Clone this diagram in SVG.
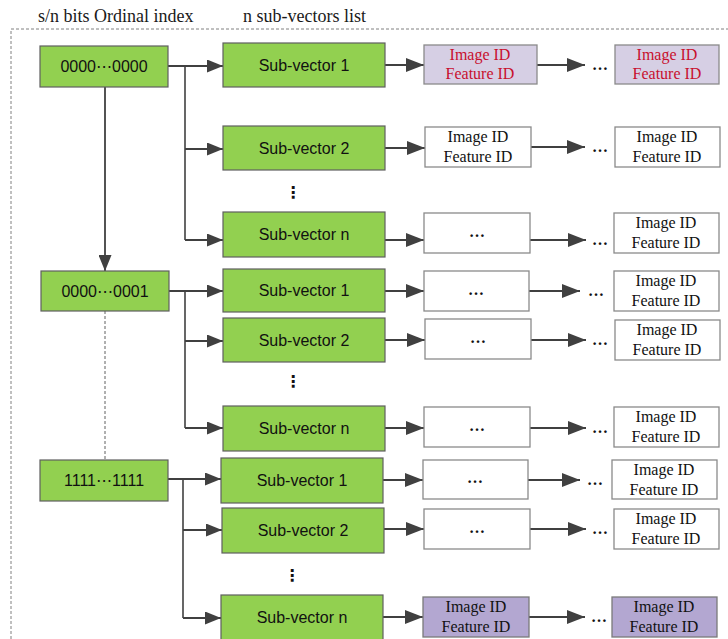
<svg xmlns="http://www.w3.org/2000/svg" width="728" height="639" viewBox="0 0 728 639">
<defs>
<style>
.bg{fill:#ffffff}
.frame{fill:none;stroke:#808080;stroke-width:1;stroke-dasharray:3 2}
.green{fill:#92d050;stroke:#5f5f5f;stroke-width:1.2}
.white{fill:#ffffff;stroke:#8a8a8a;stroke-width:1.3}
.lp{fill:#d6cfe4;stroke:#8a8a8a;stroke-width:1.3}
.dp{fill:#b3a7d1;stroke:#7a7a7a;stroke-width:1.3}
.title{font-family:"Liberation Serif","Times New Roman",serif;font-size:18px;fill:#1a1a1a}
.sv{font-family:"Liberation Sans",Arial,"DejaVu Sans",sans-serif;font-size:16px;fill:#111;text-anchor:middle}
.id{font-family:"Liberation Serif","Times New Roman",serif;font-size:16px;fill:#111;text-anchor:middle}
.red{fill:#c8102e}
.dots{font-family:"Liberation Serif","Times New Roman",serif;font-size:16px;font-weight:bold;fill:#111;text-anchor:middle}
.vd{font-family:"DejaVu Sans",sans-serif;font-size:16px;font-weight:bold;fill:#111;text-anchor:middle}
.ln{fill:none;stroke:#404040;stroke-width:1.6}
.arr{fill:none;stroke:#404040;stroke-width:2.2;marker-end:url(#ah)}
.arr2{fill:none;stroke:#404040;stroke-width:1.8;marker-end:url(#ah2)}
.dash{fill:none;stroke:#606060;stroke-width:1;stroke-dasharray:3 2}
</style>
<marker id="ah" markerUnits="userSpaceOnUse" markerWidth="18" markerHeight="14" viewBox="0 0 18 14" refX="18" refY="7" orient="auto">
<path d="M0,0 L18,7 L0,14 z" fill="#404040"/>
</marker>
<marker id="ah2" markerUnits="userSpaceOnUse" markerWidth="16" markerHeight="13" viewBox="0 0 16 13" refX="16" refY="6.5" orient="auto">
<path d="M0,0 L16,6.5 L0,13 z" fill="#404040"/>
</marker>
</defs>
<rect class="bg" x="0" y="0" width="728" height="639"/>
<path class="frame" d="M11,639 V29 H728"/>
<text class="title" x="38" y="22">s/n bits Ordinal index</text>
<text class="title" x="243" y="22">n sub-vectors list</text>

<g id="connectors">
<path class="arr2" d="M105,87 V271"/>
<path class="dash" d="M105,311 V460"/>
<path class="ln" d="M185,66 V240"/>
<path class="arr2" d="M168,66 H223"/>
<path class="arr2" d="M185,149 H223"/>
<path class="arr2" d="M185,240 H223"/>
<path class="ln" d="M185,291 V428"/>
<path class="arr2" d="M169,291 H223"/>
<path class="arr2" d="M185,341 H223"/>
<path class="arr2" d="M185,428 H223"/>
<path class="ln" d="M183,479 V618"/>
<path class="arr2" d="M168,479 H221"/>
<path class="arr2" d="M183,530 H222"/>
<path class="arr2" d="M183,618 H221"/>
<path class="arr" d="M385,65 H424"/>
<path class="arr" d="M537,65 H585"/>
<path class="arr" d="M385,148 H425"/>
<path class="arr" d="M531,147 H585"/>
<path class="arr" d="M385,240 H424"/>
<path class="arr" d="M530,240 H586"/>
<path class="arr" d="M385,291 H424"/>
<path class="arr" d="M529,291 H580"/>
<path class="arr" d="M385,340 H425"/>
<path class="arr" d="M531,340 H586"/>
<path class="arr" d="M385,428 H424"/>
<path class="arr" d="M530,428 H586"/>
<path class="arr" d="M383,480 H423"/>
<path class="arr" d="M528,480 H580"/>
<path class="arr" d="M384,529 H424"/>
<path class="arr" d="M530,529 H586"/>
<path class="arr" d="M383,617 H423"/>
<path class="arr" d="M529,617 H585"/>
</g>

<g id="idx0"><rect class="green" x="40" y="46" width="128" height="41"/><text class="sv" x="104" y="72">0000⋯0000</text></g>
<g id="idx1"><rect class="green" x="41" y="271" width="128" height="40"/><text class="sv" x="105" y="297">0000⋯0001</text></g>
<g id="idx2"><rect class="green" x="40" y="460" width="128" height="41"/><text class="sv" x="104" y="486">1111⋯1111</text></g>

<g id="g1sv1"><rect class="green" x="223" y="43" width="162" height="44"/><text class="sv" x="304" y="71">Sub-vector 1</text></g>
<g id="g1sv2"><rect class="green" x="223" y="126" width="162" height="44"/><text class="sv" x="304" y="154">Sub-vector 2</text></g>
<g id="g1vd"><text class="vd" x="293" y="198">⋮</text></g>
<g id="g1svn"><rect class="green" x="223" y="212" width="162" height="45"/><text class="sv" x="304" y="240">Sub-vector n</text></g>
<g id="g2sv1"><rect class="green" x="223" y="269" width="162" height="43"/><text class="sv" x="304" y="296">Sub-vector 1</text></g>
<g id="g2sv2"><rect class="green" x="223" y="318" width="162" height="44"/><text class="sv" x="304" y="346">Sub-vector 2</text></g>
<g id="g2vd"><text class="vd" x="293" y="387">⋮</text></g>
<g id="g2svn"><rect class="green" x="223" y="406" width="162" height="45"/><text class="sv" x="304" y="434">Sub-vector n</text></g>
<g id="g3sv1"><rect class="green" x="221" y="458" width="162" height="45"/><text class="sv" x="302" y="486">Sub-vector 1</text></g>
<g id="g3sv2"><rect class="green" x="222" y="508" width="162" height="45"/><text class="sv" x="303" y="536">Sub-vector 2</text></g>
<g id="g3vd"><text class="vd" x="292" y="581">⋮</text></g>
<g id="g3svn"><rect class="green" x="221" y="595" width="162" height="45"/><text class="sv" x="302" y="623">Sub-vector n</text></g>

<g id="m1"><rect class="lp" x="424" y="45" width="113" height="39"/><text class="id red" x="480" y="60">Image ID</text><text class="id red" x="480" y="79">Feature ID</text></g>
<g id="m2"><rect class="white" x="425" y="127" width="106" height="40"/><text class="id" x="478" y="142">Image ID</text><text class="id" x="478" y="162">Feature ID</text></g>
<g id="m3"><rect class="white" x="424" y="213" width="106" height="40"/><text class="dots" x="477" y="237">…</text></g>
<g id="m4"><rect class="white" x="424" y="271" width="105" height="40"/><text class="dots" x="476" y="295">…</text></g>
<g id="m5"><rect class="white" x="425" y="319" width="106" height="40"/><text class="dots" x="478" y="343">…</text></g>
<g id="m6"><rect class="white" x="424" y="407" width="106" height="40"/><text class="dots" x="477" y="431">…</text></g>
<g id="m7"><rect class="white" x="423" y="460" width="105" height="39"/><text class="dots" x="475" y="483">…</text></g>
<g id="m8"><rect class="white" x="424" y="509" width="106" height="40"/><text class="dots" x="477" y="533">…</text></g>
<g id="m9"><rect class="dp" x="423" y="597" width="106" height="40"/><text class="id" x="476" y="612">Image ID</text><text class="id" x="476" y="632">Feature ID</text></g>

<g id="e1"><text class="dots" x="600" y="70">…</text></g>
<g id="e2"><text class="dots" x="600" y="152">…</text></g>
<g id="e3"><text class="dots" x="600" y="245">…</text></g>
<g id="e4"><text class="dots" x="596" y="296">…</text></g>
<g id="e5"><text class="dots" x="600" y="345">…</text></g>
<g id="e6"><text class="dots" x="600" y="433">…</text></g>
<g id="e7"><text class="dots" x="595" y="485">…</text></g>
<g id="e8"><text class="dots" x="600" y="534">…</text></g>
<g id="e9"><text class="dots" x="599" y="622">…</text></g>

<g id="r1"><rect class="lp" x="615" y="45" width="104" height="39"/><text class="id red" x="667" y="60">Image ID</text><text class="id red" x="667" y="79">Feature ID</text></g>
<g id="r2"><rect class="white" x="615" y="127" width="105" height="40"/><text class="id" x="667" y="142">Image ID</text><text class="id" x="667" y="162">Feature ID</text></g>
<g id="r3"><rect class="white" x="614" y="213" width="105" height="40"/><text class="id" x="666" y="228">Image ID</text><text class="id" x="666" y="248">Feature ID</text></g>
<g id="r4"><rect class="white" x="614" y="271" width="105" height="40"/><text class="id" x="666" y="286">Image ID</text><text class="id" x="666" y="306">Feature ID</text></g>
<g id="r5"><rect class="white" x="615" y="320" width="105" height="40"/><text class="id" x="667" y="335">Image ID</text><text class="id" x="667" y="355">Feature ID</text></g>
<g id="r6"><rect class="white" x="614" y="407" width="105" height="40"/><text class="id" x="666" y="422">Image ID</text><text class="id" x="666" y="442">Feature ID</text></g>
<g id="r7"><rect class="white" x="612" y="460" width="105" height="39"/><text class="id" x="664" y="475">Image ID</text><text class="id" x="664" y="495">Feature ID</text></g>
<g id="r8"><rect class="white" x="614" y="509" width="105" height="40"/><text class="id" x="666" y="524">Image ID</text><text class="id" x="666" y="544">Feature ID</text></g>
<g id="r9"><rect class="dp" x="612" y="597" width="105" height="40"/><text class="id" x="664" y="612">Image ID</text><text class="id" x="664" y="632">Feature ID</text></g>
</svg>
